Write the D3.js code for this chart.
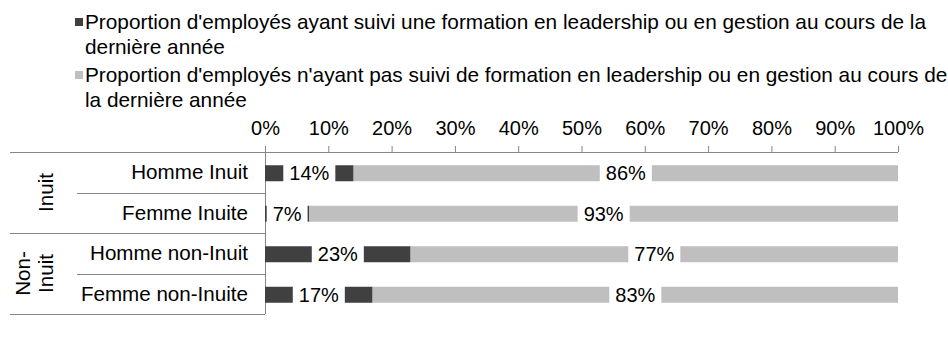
<!DOCTYPE html>
<html><head><meta charset="utf-8">
<script src="https://cdn.jsdelivr.net/npm/d3@7"></script>
<style>body{margin:0;background:#fff}svg{display:block}text{font-family:"Liberation Sans",Arial,sans-serif;fill:#000}</style>
</head><body><svg id="c" width="948" height="338"></svg>
<script>
const categories = ["Homme Inuit","Femme Inuite","Homme non-Inuit","Femme non-Inuite"];
const groups = [["Inuit"],["Non-","Inuit"]];
const groupSizes = [2,2];
const trained = [14,7,23,17];
const notTrained = [86,93,77,83];
const seriesNames = [
 ["Proportion d'employés ayant suivi une formation en leadership ou en gestion au cours de la","dernière année"],
 ["Proportion d'employés n'ayant pas suivi de formation en leadership ou en gestion au cours de","la dernière année"]
];
const tickValues = [0,10,20,30,40,50,60,70,80,90,100];
const colors = ["#404040","#bfbfbf"];

const svg = d3.select("#c");
const fs = 20;
const x = d3.scaleLinear().domain([0,100]).range([265,898]);
const y = d3.scaleBand().domain(categories).range([152,314]);
const axisColor = "#868686";

// legend
const leg = svg.append("g");
const legTop = [22,75];
seriesNames.forEach((lines,i)=>{
  leg.append("rect").attr("x",75).attr("y",legTop[i]-4).attr("width",8).attr("height",8).attr("fill",colors[i]);
  lines.forEach((t,j)=>{
    leg.append("text").attr("x",85).attr("y",legTop[i]+j*25).attr("dy","0.35em").attr("font-size",20.8).text(t);
  });
});

// axis
const ax = svg.append("g").attr("transform","translate(0,152)")
  .call(d3.axisTop(x).tickValues(tickValues).tickFormat(d=>d+"%").tickSize(6).tickPadding(11));
ax.select(".domain").remove();
ax.selectAll(".tick line").attr("stroke",axisColor);
ax.selectAll(".tick text").attr("font-size",fs).attr("font-family","Liberation Sans, Arial, sans-serif").attr("fill","#000");
svg.append("line").attr("x1",10).attr("x2",898).attr("y1",152.5).attr("y2",152.5).attr("stroke",axisColor);
svg.append("line").attr("x1",265.5).attr("x2",265.5).attr("y1",146).attr("y2",314).attr("stroke",axisColor);

// separators
const starts = [];
groupSizes.forEach(n=>{ for(let k=0;k<n;k++){ starts.push(k===n-1?10:77); } });
categories.forEach((c,i)=>{
  const yy = Math.round(y(c)+y.bandwidth())+0.5;
  svg.append("line").attr("x1",starts[i]).attr("x2",265).attr("y1",yy).attr("y2",yy).attr("stroke",axisColor);
});

// category labels
categories.forEach(c=>{
  svg.append("text").attr("x",248).attr("y",y(c)+y.bandwidth()/2).attr("dy","0.35em")
    .attr("text-anchor","end").attr("font-size",20.6).text(c);
});

// group labels
let gi=0;
groups.forEach((lines,g)=>{
  const first = categories[gi], last = categories[gi+groupSizes[g]-1];
  const cy = (y(first)+y(last)+y.bandwidth())/2;
  gi += groupSizes[g];
  const baseX = [[53],[30,53]][g];
  lines.forEach((t,j)=>{
    svg.append("text").attr("transform",`translate(${baseX[j]},${cy}) rotate(-90)`)
      .attr("text-anchor","middle").attr("font-size",20.6).text(t);
  });
});

// bars
const barH = 16;
const stacks = categories.map((c,i)=>[{s:0,v:trained[i],k:0},{s:trained[i],v:notTrained[i],k:1}]);
const barsG = svg.append("g");
const labelsG = svg.append("g");
stacks.forEach((segs,i)=>{
  const c = categories[i];
  const cy = y(c)+y.bandwidth()/2;
  segs.forEach(d=>{
    barsG.append("rect").attr("x",x(d.s)).attr("y",cy-barH/2+1).attr("width",x(d.s+d.v)-x(d.s)).attr("height",barH).attr("fill",colors[d.k]);
  });
  segs.forEach(d=>{
    const cx = (x(d.s)+x(d.s+d.v))/2;
    const lg = labelsG.append("g");
    const t = lg.append("text").attr("x",cx).attr("y",cy+1).attr("dy","0.35em").attr("text-anchor","middle").attr("font-size",fs).text(d.v+"%");
    const w = t.node().getComputedTextLength();
    lg.insert("rect","text").attr("x",cx-w/2-6).attr("y",cy-barH/2).attr("width",w+12).attr("height",barH+2).attr("fill","#fff");
  });
});
</script></body></html>
